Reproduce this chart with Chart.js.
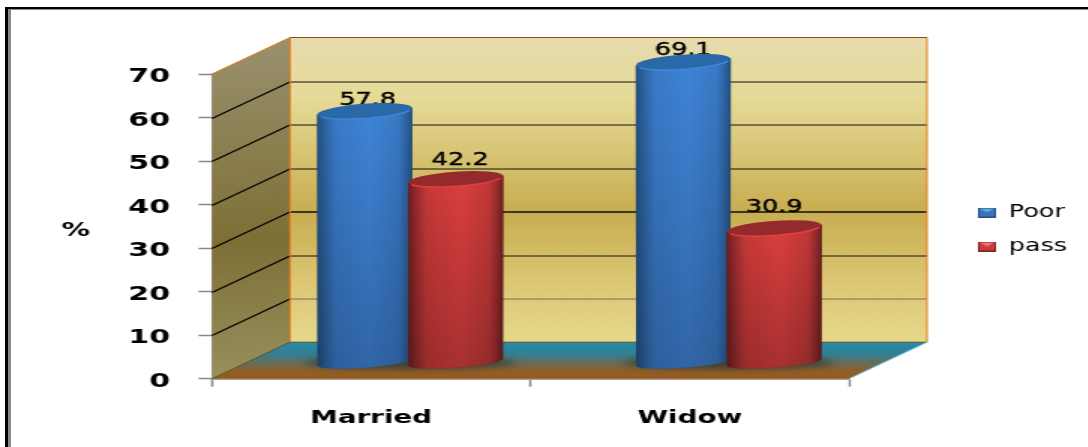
<!DOCTYPE html>
<html lang="en">
<head>
  <meta charset="UTF-8">
  <title>Poor / pass by marital status</title>
  <style>
    html, body { margin: 0; padding: 0; background: #fff; overflow: hidden; width: 1088px; height: 447px; }
    /* the original is a picture stretched sideways, so the canvas is too */
    #chart { position: absolute; left: 0; top: 0; transform-origin: 0 0; transform: scaleX(1.5); }
    .frame { position: absolute; left: 5px; top: 7px; right: -10px; bottom: -10px; border-top: 2px solid #000; border-left: 3px solid #000; }
    .frame div { position: absolute; left: 0; top: 0; right: 0; bottom: 0; border-top: 1px solid #8a8a8a; border-left: 3px solid #8a8a8a; }
  </style>
  <script src="https://cdn.jsdelivr.net/npm/chart.js"></script>
</head>
<body>
  <canvas id="chart" width="726" height="447"></canvas>
  <div class="frame"><div></div></div>

  <script>
    const categories = ['Married', 'Widow'];
    const poorValues = [57.8, 69.1];
    const passValues = [42.2, 30.9];
    const yTicks = [0, 10, 20, 30, 40, 50, 60, 70];

    const DEPTH_X = 52;      // back wall offset
    const DEPTH_Y = 36.5;
    const BAR_DX = 26;       // bars stand half way into the floor
    const BAR_DY = 16;
    const CAP_RY = 7.3;
    const CAP_TILT = -0.11;
    const FONT = '"DejaVu Sans", Verdana, sans-serif';

    const palette = [
      { edge: '#234f7e', mid: '#3f84d8', cap: '#2a68a8', rim: '#3c88d4' },
      { edge: '#6a1e20', mid: '#da3f3e', cap: '#952a2c', rim: '#e2403f' }
    ];
    // how far the value labels sit above the bar tops and sideways [bar, category]
    const labelLift = [[11, 11], [18, 21]];
    const labelShift = [[2, 0], [3, 0]];

    function swatch(light, main, dark) {
      const c = document.createElement('canvas');
      c.width = 12; c.height = 10;
      const g = c.getContext('2d');
      g.fillStyle = main; g.fillRect(0, 0, 12, 10);
      g.fillStyle = light;
      g.beginPath(); g.moveTo(1, 1); g.lineTo(11, 1); g.lineTo(6, 5); g.fill();
      g.strokeStyle = dark; g.lineWidth = 1; g.strokeRect(0.5, 0.5, 11, 9);
      return c;
    }

    function drawCylinder(ctx, bar, colors) {
      const rx = bar.width / 2;
      const cx = bar.x + BAR_DX;
      const top = bar.y - BAR_DY;
      const base = bar.base - BAR_DY;
      const sin = Math.sin(CAP_TILT) * rx;
      ctx.save();

      // body: a tilted outline between bottom and top ellipse
      ctx.beginPath();
      ctx.ellipse(cx, base, rx, CAP_RY - 2, CAP_TILT, 0, Math.PI);
      ctx.lineTo(cx - rx, top - sin);
      ctx.lineTo(cx + rx, top + sin);
      ctx.closePath();
      let g = ctx.createLinearGradient(cx - rx, 0, cx + rx, 0);
      g.addColorStop(0, colors.edge);
      g.addColorStop(0.2, colors.mid + 'd0');
      g.addColorStop(0.55, colors.mid);
      g.addColorStop(0.85, colors.mid + 'c8');
      g.addColorStop(1, colors.edge);
      ctx.fillStyle = colors.edge;
      ctx.fill();
      ctx.fillStyle = g;
      ctx.fill();
      // darker toward the floor
      g = ctx.createLinearGradient(0, top, 0, base);
      g.addColorStop(0, 'rgba(0,0,0,0)');
      g.addColorStop(1, 'rgba(0,0,0,0.22)');
      ctx.fillStyle = g;
      ctx.fill();

      // cap with a bright front rim
      ctx.beginPath();
      ctx.ellipse(cx, top, rx, CAP_RY, CAP_TILT, 0, Math.PI * 2);
      ctx.fillStyle = colors.cap;
      ctx.fill();
      ctx.beginPath();
      ctx.ellipse(cx, top, rx, CAP_RY, CAP_TILT, 0.35, Math.PI - 0.35);
      ctx.strokeStyle = colors.rim;
      ctx.lineWidth = 1.5;
      ctx.stroke();
      ctx.restore();
    }

    const scenery = {
      id: 'scenery',
      beforeLayout(chart) {
        // keep the plot where it is, legend floats further right
        if (!chart.legend._wrapped) {
          const fit = chart.legend.fit;
          chart.legend.fit = function () { fit.call(this); this.width = 160; };
          chart.legend._wrapped = true;
        }
      },
      afterLayout(chart) {
        chart.legend.left = 652 - 17;
        chart.legend.top -= 31;
        chart.legend.bottom -= 31;
      },
      beforeDatasetsDraw(chart) {
        const { ctx, scales: { x, y } } = chart;
        const L = x.left, R = x.right, B = y.bottom, T = y.top;
        const dx = DEPTH_X, dy = DEPTH_Y;
        ctx.save();

        // back wall
        let g = ctx.createLinearGradient(0, T - dy, 0, B - dy);
        g.addColorStop(0, '#e6dcae');
        g.addColorStop(0.2, '#e6da96');
        g.addColorStop(0.57, '#c8ad50');
        g.addColorStop(0.8, '#dcc673');
        g.addColorStop(1, '#e6d88c');
        ctx.fillStyle = g;
        ctx.fillRect(L + dx, T - dy, R - L, B - T);

        // side wall
        g = ctx.createLinearGradient(L, T - dy, L + dx * 0.6, B);
        g.addColorStop(0, '#9a9270');
        g.addColorStop(0.6, '#7e6f35');
        g.addColorStop(1, '#98905e');
        ctx.fillStyle = g;
        ctx.beginPath();
        ctx.moveTo(L, B); ctx.lineTo(L + dx, B - dy); ctx.lineTo(L + dx, T - dy); ctx.lineTo(L, T);
        ctx.closePath(); ctx.fill();

        // floor
        g = ctx.createLinearGradient(0, B - dy, 0, B);
        g.addColorStop(0, '#2a8aa6');
        g.addColorStop(0.3, '#2f8198');
        g.addColorStop(0.75, '#8a6030');
        g.addColorStop(1, '#9d5a18');
        ctx.fillStyle = g;
        ctx.beginPath();
        ctx.moveTo(L, B); ctx.lineTo(R, B); ctx.lineTo(R + dx, B - dy); ctx.lineTo(L + dx, B - dy);
        ctx.closePath(); ctx.fill();

        // gridlines from the axis ticks
        y.ticks.forEach(t => {
          const py = Math.round(y.getPixelForValue(t.value)) + 0.5;
          if (t.value === 0 || t.value === 70) return;
          ctx.strokeStyle = '#000';
          ctx.lineWidth = 1.2;
          ctx.beginPath();
          ctx.moveTo(L, py); ctx.lineTo(L + dx, py - dy);
          ctx.stroke();
          ctx.strokeStyle = t.value === 10 ? '#77704f' : '#111';
          ctx.lineWidth = t.value === 30 ? 1.6 : 1;
          ctx.beginPath();
          ctx.moveTo(L + dx, py - dy); ctx.lineTo(R + dx, py - dy);
          ctx.stroke();
        });

        // wall edges
        ctx.lineWidth = 1;
        ctx.strokeStyle = '#e47a12';
        ctx.beginPath();
        ctx.moveTo(L + dx, B - dy); ctx.lineTo(L + dx, T - dy);
        ctx.moveTo(R + dx, B - dy); ctx.lineTo(R + dx, T - dy);
        ctx.moveTo(L, T); ctx.lineTo(L + dx, T - dy);
        ctx.stroke();
        ctx.strokeStyle = '#8a4c12';
        ctx.beginPath();
        ctx.moveTo(L + dx, T - dy); ctx.lineTo(R + dx, T - dy);
        ctx.stroke();
        ctx.strokeStyle = '#5a4a20';
        ctx.beginPath();
        ctx.moveTo(L + dx, B - dy); ctx.lineTo(R + dx, B - dy);
        ctx.moveTo(L, B); ctx.lineTo(L + dx, B - dy);
        ctx.stroke();
        ctx.strokeStyle = '#62c4dc';
        ctx.beginPath();
        ctx.moveTo(R, B); ctx.lineTo(R + dx, B - dy);
        ctx.stroke();

        // shadows under each pair
        ctx.filter = 'blur(3px)';
        ctx.fillStyle = 'rgba(30,32,30,0.55)';
        categories.forEach((c, i) => {
          const a = chart.getDatasetMeta(0).data[i];
          const b = chart.getDatasetMeta(1).data[i];
          const cx = (a.x + b.x) / 2 + BAR_DX;
          ctx.beginPath();
          ctx.ellipse(cx, y.bottom - BAR_DY, a.width * 1.1, 6.5, 0, 0, Math.PI * 2);
          ctx.fill();
        });
        ctx.filter = 'none';

        // value labels go behind the cylinders, the caps cut into them
        ctx.fillStyle = '#000';
        ctx.strokeStyle = '#000';
        ctx.lineWidth = 0.4;
        ctx.font = '17px ' + FONT;
        ctx.textAlign = 'center';
        ctx.textBaseline = 'middle';
        chart.data.datasets.forEach((ds, d) => {
          chart.getDatasetMeta(d).data.forEach((bar, i) => {
            const text = ds.data[i].toFixed(1);
            const lx = bar.x + BAR_DX + labelShift[d][i];
            const ly = bar.y - BAR_DY - labelLift[d][i];
            ctx.fillText(text, lx, ly);
            ctx.strokeText(text, lx, ly);
          });
        });

        // the % label
        ctx.font = 'bold 19px ' + FONT;
        ctx.fillText('%', 50.5, 231);
        ctx.restore();

        // cylinders, Poor first so pass overlaps it
        chart.data.datasets.forEach((ds, d) => {
          chart.getDatasetMeta(d).data.forEach(bar => drawCylinder(ctx, bar, palette[d]));
        });
      },
      beforeDatasetDraw() {
        return false; // flat bars replaced by the cylinders above
      }
    };

    new Chart(document.getElementById('chart'), {
      type: 'bar',
      data: {
        labels: categories,
        datasets: [
          { label: 'Poor', data: poorValues, backgroundColor: palette[0].mid },
          { label: 'pass', data: passValues, backgroundColor: palette[1].mid }
        ]
      },
      options: {
        responsive: false,
        animation: false,
        devicePixelRatio: 1,
        layout: { padding: { left: 0, right: 0, top: 74, bottom: 0 } },
        datasets: { bar: { categoryPercentage: 0.571, barPercentage: 1.044 } },
        scales: {
          x: {
            afterFit(s) { s.height = 447 - 378.7; },
            border: { color: '#a4a4a4', width: 2 },
            grid: { drawOnChartArea: false, tickLength: 8, tickColor: '#888', tickWidth: 1.5 },
            ticks: { color: '#000', padding: 20, font: { family: FONT, size: 18.5, weight: 'bold' } }
          },
          y: {
            min: 0,
            max: 70,
            afterFit(s) { s.width = 141.3; },
            afterBuildTicks(s) { s.ticks = yTicks.map(v => ({ value: v })); },
            border: { color: '#a4a4a4', width: 1.5 },
            grid: { drawOnChartArea: false, tickLength: 9, tickColor: '#888', tickWidth: 1.5 },
            ticks: { color: '#000', padding: 19, labelOffset: 3, font: { family: FONT, size: 20, weight: 'bold' } }
          }
        },
        plugins: {
          tooltip: { enabled: false },
          legend: {
            position: 'right',
            labels: {
              color: '#000',
              font: { family: FONT, size: 17 },
              padding: 17,
              usePointStyle: true,
              pointStyleWidth: 12,
              generateLabels: () => [
                { text: 'Poor', pointStyle: swatch('#5fa8ea', '#3a74b4', '#24507e'), datasetIndex: 0, lineWidth: 0, fontColor: '#000' },
                { text: 'pass', pointStyle: swatch('#ee7472', '#c43c3c', '#7c2224'), datasetIndex: 1, lineWidth: 0, fontColor: '#000' }
              ]
            }
          }
        }
      },
      plugins: [scenery]
    });
  </script>
</body>
</html>
